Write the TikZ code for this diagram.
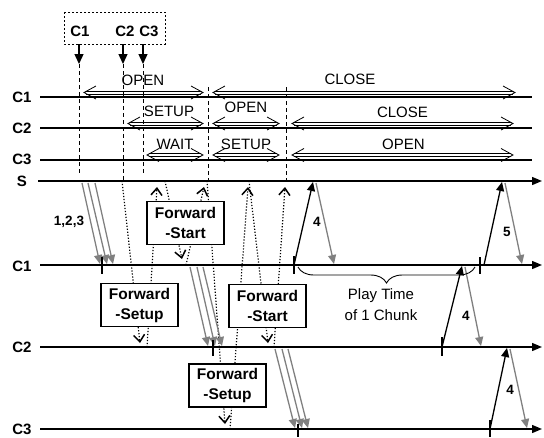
\documentclass[tikz,border=0pt]{standalone}
\usepackage{fontspec}
\setmainfont{Liberation Sans}
\usetikzlibrary{arrows.meta,decorations.pathreplacing}
\tikzset{
  tline/.style={line width=1.4pt},
  tarrow/.style={line width=1.4pt,-{Triangle[length=10pt,width=8pt]}},
  lbl/.style={font=\fontsize{15}{16}\selectfont\bfseries, inner sep=0pt},
  stxt/.style={font=\fontsize{15}{17}\selectfont, inner sep=0pt},
  num/.style={font=\fontsize{13.5}{15}\selectfont\bfseries, inner sep=0pt},
  vdash/.style={line width=0.9pt, dash pattern=on 4pt off 3pt},
  msg/.style={line width=1.2pt, dash pattern=on 1.2pt off 1.8pt, -{Straight Barb[length=7pt,width=11pt,line width=1.5pt]}},
  fwd/.style={draw, line width=1.4pt, fill=white, minimum width=77pt, minimum height=43pt, inner sep=0pt, align=center, font=\fontsize{15.5}{20}\selectfont\bfseries},
  chunk/.style={draw=black!50, line width=1.3pt, -{Triangle[length=9pt,width=8pt]}},
  req/.style={draw=black, line width=1.3pt, -{Triangle[length=9pt,width=8pt]}},
  tick/.style={line width=1.6pt},
  sbar/.style={line width=0.8pt},
}
\newcommand\mystatebar[3]{%
  \draw[sbar] (#1+2,#3-1.5) -- (#2-2,#3-1.5) (#1+2,#3+1.5) -- (#2-2,#3+1.5);
  \draw[sbar] (#1+12,#3-6.5) -- (#1,#3) -- (#1+12,#3+6.5);
  \draw[sbar] (#2-12,#3-6.5) -- (#2,#3) -- (#2-12,#3+6.5);
}
\begin{document}
\begin{tikzpicture}[x=1pt,y=-1pt]
\useasboundingbox (0,0) rectangle (544,437);
% request box
\draw[line width=0.8pt, dash pattern=on 2pt off 2pt] (64,12) rectangle (165,44);
\node[lbl] (rq1) at (80,31) {C1};
\node[lbl] (rq2) at (125,31) {C2};
\node[lbl] (rq3) at (149,31) {C3};
\coordinate (r1a) at (79,44); \coordinate (r1b) at (79,64);
\coordinate (r2a) at (123,44); \coordinate (r2b) at (123,64);
\coordinate (r3a) at (143,44); \coordinate (r3b) at (143,64);
\draw[line width=1.3pt,-{Triangle[length=10pt,width=9pt]}] (r1a) -- (r1b);
\draw[line width=1.3pt,-{Triangle[length=10pt,width=9pt]}] (r2a) -- (r2b);
\draw[line width=1.3pt,-{Triangle[length=10pt,width=9pt]}] (r3a) -- (r3b);
% labels
\node[lbl] (lc1) at (22,97) {C1};
\node[lbl] (lc2) at (22,128) {C2};
\node[lbl] (lc3) at (22,159) {C3};
\node[lbl] (ls) at (22,181) {S};
\node[lbl] (lb1) at (22,266) {C1};
\node[lbl] (lb2) at (22,347) {C2};
\node[lbl] (lb3) at (22,429) {C3};
% timelines
\draw[tline] (40,97) -- (532,97);
\draw[tline] (40,128) -- (532,128);
\draw[tline] (40,160) -- (532,160);
\draw[tarrow] (38,181) -- (542,181);
\draw[tarrow] (40,265) -- (542,265);
\draw[tarrow] (40,347) -- (542,347);
\draw[tarrow] (40,429) -- (542,429);
% dashed event lines
\draw[vdash] (79,64) -- (79,173);
\draw[vdash] (123,64) -- (123,181);
\draw[vdash] (143,64) -- (143,173);
\draw[vdash] (208,87) -- (208,181);
\draw[vdash] (286,87) -- (286,181);
% state bars
\mystatebar{84}{203}{92.5}
\mystatebar{213}{515}{92.5}
\mystatebar{128}{203}{123.5}
\mystatebar{213}{279}{123.5}
\mystatebar{292}{513}{123.5}
\mystatebar{147}{203}{155}
\mystatebar{213}{279}{155}
\mystatebar{292}{513}{155}
\node[stxt] (s1) at (143,80.5) {OPEN};
\node[stxt] (s2) at (350,79) {CLOSE};
\node[stxt] (s3) at (169,111) {SETUP};
\node[stxt] (s4) at (246,107.5) {OPEN};
\node[stxt] (s5) at (402.5,112) {CLOSE};
\node[stxt] (s6) at (175,144) {WAIT};
\node[stxt] (s7) at (246,144) {SETUP};
\node[stxt] (s8) at (403.5,144) {OPEN};
% control messages
\draw[msg] (122,181) -- (140,343);
\draw[msg] (147,347) -- (157,187);
\draw[msg] (165,181) -- (182,259);
\draw[msg] (186,265) -- (204,187);
\draw[msg] (207,181) -- (225,424);
\draw[msg] (230,429) -- (248,187);
\draw[msg] (249,181) -- (268,343);
\draw[msg] (274,347) -- (285,187);
% message boxes
\node[fwd] (fs1) at (185.5,223) {Forward\\-Start};
\node[fwd] (fu1) at (139.5,305) {Forward\\-Setup};
\node[fwd] (fs2) at (267.5,306) {Forward\\-Start};
\node[fwd] (fu2) at (227.5,385.5) {Forward\\-Setup};
% chunk streams 1,2,3
\draw[chunk] (82,183) -- (100,264);
\draw[chunk] (88,183) -- (107,264);
\draw[chunk] (95,183) -- (113,264);
\node[num] (n123) at (69,222) {1,2,3};
\draw[tick] (102,257) -- (102,274);
\draw[chunk] (190,267) -- (208,346);
\draw[chunk] (197,267) -- (215,346);
\draw[chunk] (203,267) -- (222,346);
\draw[tick] (213,340) -- (213,356);
\draw[chunk] (275,349) -- (295,428);
\draw[chunk] (282,349) -- (302,428);
\draw[chunk] (288,349) -- (308,428);
\draw[tick] (298,424) -- (298,437);
% chunk 4 / 5 requests
\draw[tick] (294,256) -- (294,274);
\draw[req] (294,265) -- (313,182);
\draw[chunk] (316,183) -- (334,264);
\node[num] (n4a) at (317,222) {4};
\draw[tick] (480,257) -- (480,274);
\draw[req] (484,265) -- (502,182);
\draw[chunk] (505,183) -- (522,264);
\node[num] (n5) at (507,232) {5};
\draw[tick] (442,337) -- (442,356);
\draw[req] (442,347) -- (462,266);
\draw[chunk] (465,267) -- (481,346);
\node[num] (n4b) at (466,316) {4};
\draw[tick] (490,420) -- (490,437);
\draw[req] (490,429) -- (507,348);
\draw[chunk] (510,349) -- (527,428);
\node[num] (n4c) at (510,390) {4};
% play time brace
\draw[line width=0.9pt, decorate, decoration={brace, amplitude=16pt, mirror}] (298,267) -- (475,267);
\node[stxt, align=center, font=\fontsize{15}{21}\selectfont] (pt) at (381,305) {Play Time\\of 1 Chunk};
\end{tikzpicture}
\end{document}
